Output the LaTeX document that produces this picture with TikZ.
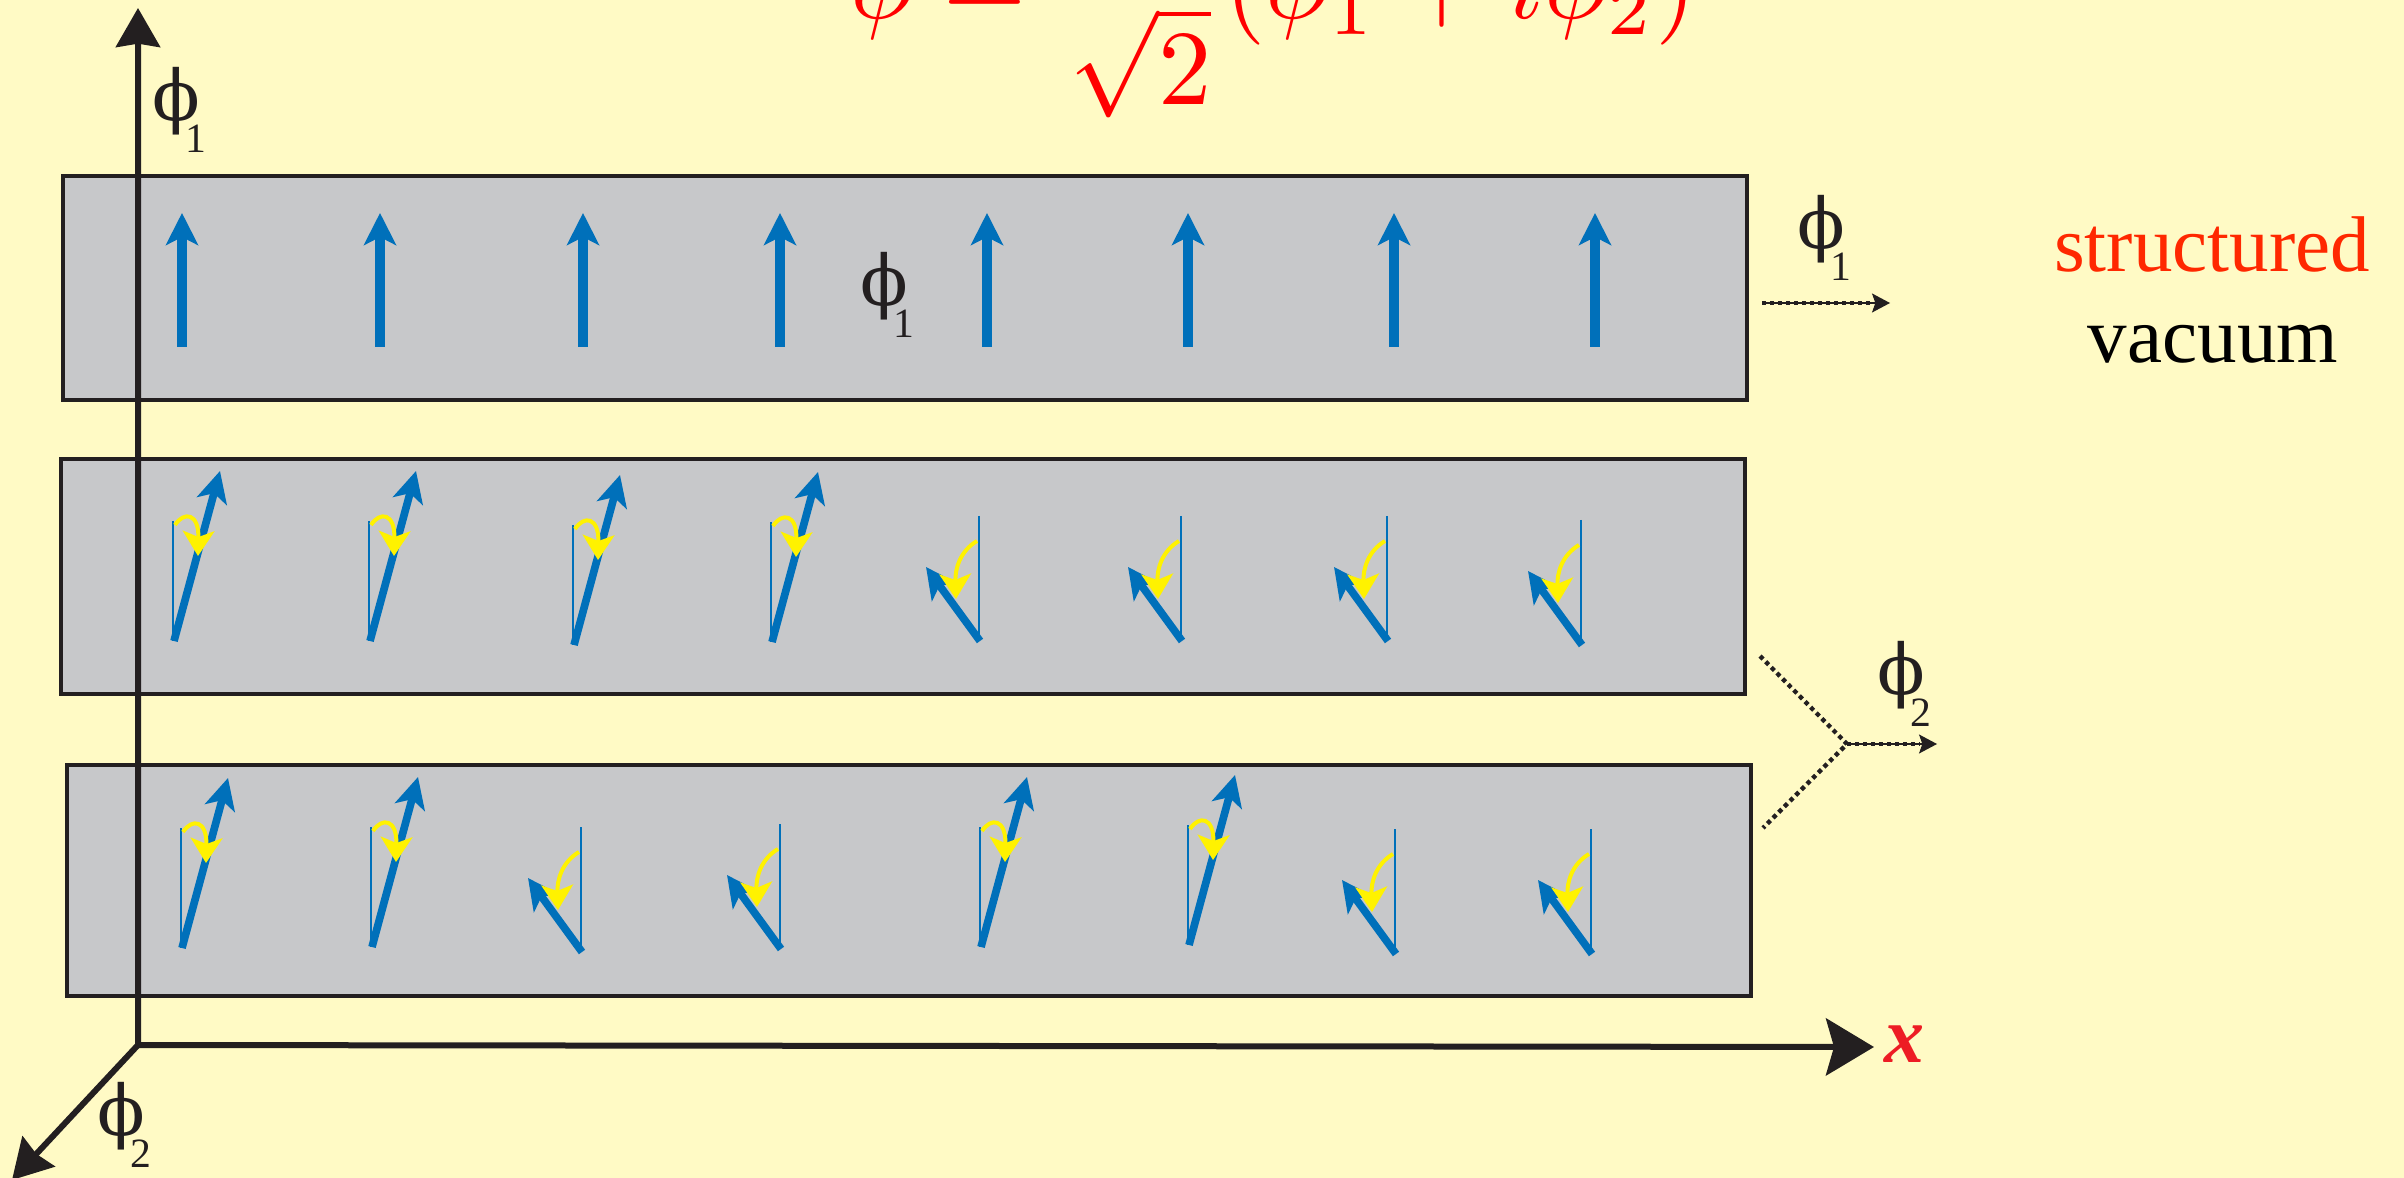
\documentclass[tikz,border=0pt]{standalone}
\usepackage{graphicx}
\usepackage[no-math]{fontspec}
\newfontfamily\tms{Liberation Serif}
\newfontfamily\grk{DejaVu Serif}
\usetikzlibrary{arrows.meta}
\definecolor{bgc}{RGB}{255,250,197}
\definecolor{boxc}{RGB}{199,200,202}
\definecolor{ink}{RGB}{35,31,32}
\definecolor{spin}{RGB}{0,112,186}
\definecolor{rot}{RGB}{255,242,0}
\definecolor{frm}{RGB}{255,0,0}
\definecolor{strc}{RGB}{255,40,0}
\definecolor{xred}{RGB}{237,28,36}

\newcommand\phil[1]{{\fontsize{21pt}{26pt}\selectfont\grk ϕ\kern-4.5pt\raisebox{-9.6pt}{\fontsize{12.5pt}{14pt}\selectfont\tms #1}}}

\newcommand\spinUp[2]{%
  \draw[spinup] (#1,#2) -- (#1,213);}
\newcommand\spinA[2]{%
  \draw[thinref] (#1-1,#2-120) -- (#1-1,#2);
  \draw[spinarrow] (#1,#2) -- (#1+46,#2-170);
  \draw[rotarrow] (#1+1,#2-116) .. controls (#1+10,#2-130) and (#1+25,#2-128) .. (#1+24,#2-85);}
\newcommand\spinB[2]{%
  \draw[thinref] (#1-1,#2-125) -- (#1-1,#2-5);
  \draw[spinarrow] (#1,#2) -- (#1-54,#2-74);
  \draw[rotarrow] (#1-3,#2-100) .. controls (#1-20,#2-90) and (#1-25,#2-72) .. (#1-24,#2-42);}

\begin{document}
\begin{tikzpicture}[x=0.3pt,y=-0.3pt,
  panel/.style={draw=ink, fill=boxc, line width=1.2pt},
  axisl/.style={draw=ink, line width=1.8pt},
  spinup/.style={spin, line width=3pt, -{Stealth[length=9.6pt,width=9.6pt,inset=2.4pt]}},
  spinarrow/.style={spin, line width=2.3pt, -{Stealth[length=9.3pt,width=9.2pt,inset=2.4pt]}},
  thinref/.style={spin, line width=0.6pt},
  rotarrow/.style={rot, line width=1.2pt, -{Stealth[length=7.5pt,width=9.5pt,inset=1.8pt]}},
  dotpat/.style={ink, line width=1.3pt, dash pattern=on 1.3pt off 1.1pt},
  thinink/.style={ink, line width=0.4pt},
  smalltip/.style={-{Stealth[length=5.4pt,width=5.7pt,inset=1pt]}},
  lbl/.style={anchor=base west, inner sep=0pt, text=ink}
]
\useasboundingbox (0,0) rectangle (2404,1178);
\fill[bgc] (0,0) rectangle (2404,1178);
\clip (0,0) rectangle (2404,1178);

% formula (top cut off)
\node[anchor=base west, inner sep=0pt, text=frm] (formula) at (850,19)
  {\scalebox{3.2}{$\displaystyle\phi=\frac{1}{\sqrt{2}}(\phi_1+i\phi_2)$}};

% panels
\draw[panel] (63,176) rectangle (1747,400);
\draw[panel] (61,459) rectangle (1745,694);
\draw[panel] (67,765) rectangle (1751,996);

% panel 1: aligned spins
\foreach \xx in {182,380,583,780,987,1188,1394,1595} {\spinUp{\xx}{347}}
\node[lbl] (lbox) at (860,306) {\phil{1}};

% panel 2
\spinA{174}{641}\spinA{370}{641}\spinA{574}{645}\spinA{772}{642}
\spinB{980}{641}\spinB{1182}{641}\spinB{1388}{641}\spinB{1582}{645}

% panel 3
\spinA{182}{948}\spinA{372}{947}
\spinB{582}{952}\spinB{781}{949}
\spinA{981}{947}\spinA{1189}{945}
\spinB{1396}{954}\spinB{1592}{954}

% axes
\coordinate (O) at (138,1045);
\coordinate (ytip) at (138,8);
\coordinate (xtip) at (1874,1047);
\coordinate (ztip) at (12,1180);
\draw[axisl, {Stealth[length=11.7pt,width=13.2pt,inset=1pt]}-{Stealth[length=14.4pt,width=17.1pt,inset=2.4pt]}] (ytip) -- (O) -- (xtip);
\draw[axisl, -{Stealth[length=11.7pt,width=13.2pt,inset=1pt]}] (O) -- (ztip);
\node[lbl] (lax) at (152,121) {\phil{1}};
\node[lbl] (lz) at (97,1135) {\phil{2}};
\node[anchor=base west, inner sep=0pt, text=xred, font=\fontsize{24pt}{28pt}\selectfont\tms\bfseries\itshape] (xl) at (1884,1062) {x};

% right side: phi1 arrow
\coordinate (d1s) at (1762,303);
\coordinate (d1e) at (1890,303);
\draw[thinink, smalltip] (d1s) -- (d1e);
\draw[dotpat, shorten >=5pt] (d1s) -- (d1e);
\node[lbl] (lr1) at (1797,249) {\phil{1}};

% right side: phi2 fork
\coordinate (ya) at (1760,656);
\coordinate (yj) at (1847,744);
\coordinate (yb) at (1763,828);
\coordinate (ye) at (1937,744);
\draw[dotpat] (ya) -- (yj) -- (yb);
\draw[thinink, smalltip] (yj) -- (ye);
\draw[dotpat, shorten >=5pt] (yj) -- (ye);
\node[lbl] (lr2) at (1877,694) {\phil{2}};

% caption
\node[anchor=base, inner sep=0pt, text=strc, font=\fontsize{23.7pt}{28pt}\selectfont\tms] (s1) at (2212,272) {structured};
\node[anchor=base, inner sep=0pt, text=black, font=\fontsize{23.7pt}{28pt}\selectfont\tms] (s2) at (2213,363) {vacuum};
\end{tikzpicture}
\end{document}
